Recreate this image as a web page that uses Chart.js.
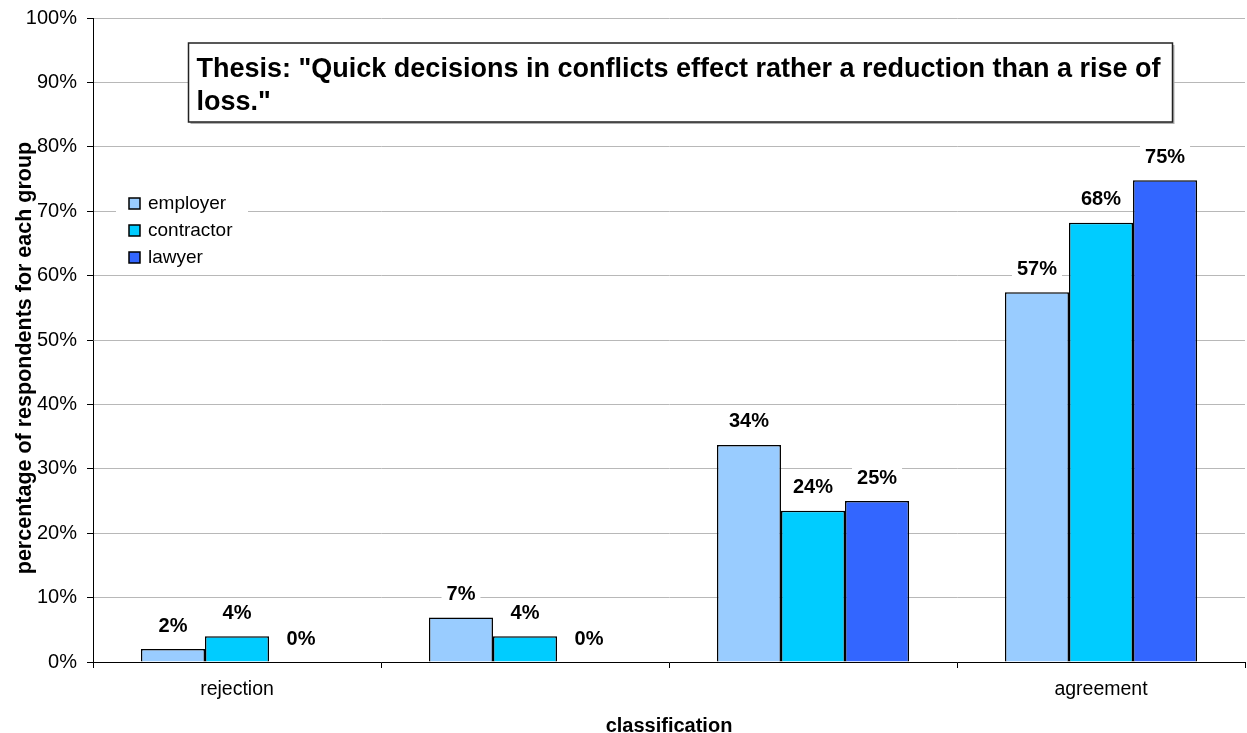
<!DOCTYPE html>
<html>
<head>
<meta charset="utf-8">
<script src="https://cdn.jsdelivr.net/npm/chart.js@4.4.1/dist/chart.umd.min.js"></script>
<style>
  html, body { margin: 0; padding: 0; background: #fff; }
  #wrap { position: relative; width: 1247px; height: 733px; }
  canvas { display: block; }
</style>
</head>
<body>
<div id="wrap"><canvas id="c" width="1247" height="733"></canvas></div>
<script>
// ---- data ----
const categories = ['rejection', '', '', 'agreement'];
const seriesNames = ['employer', 'contractor', 'lawyer'];
const employer = [2, 6.9, 33.7, 57.4];
const contractor = [4, 4, 23.5, 68.2];
const lawyer = [0, 0, 25, 74.8];
const seriesColors = ['#99CCFF', '#00CCFF', '#3366FF'];
const titleLines = ['Thesis: "Quick decisions in conflicts effect rather a reduction than a rise of', 'loss."'];
const yAxisTitle = 'percentage of respondents for each group';
const xAxisTitle = 'classification';

const FONT = 'Liberation Sans, Arial, sans-serif';

const dataLabelPlugin = {
  id: 'dataLabels',
  afterDatasetsDraw(chart) {
    const ctx = chart.ctx;
    ctx.save();
    ctx.font = 'bold 20px ' + FONT;
    ctx.textAlign = 'center';
    ctx.textBaseline = 'middle';
    chart.data.datasets.forEach((ds, di) => {
      const meta = chart.getDatasetMeta(di);
      meta.data.forEach((el, i) => {
        const txt = Math.round(ds.data[i]) + '%';
        const w = ctx.measureText(txt).width;
        const x = el.x, y = el.y - 24;
        ctx.fillStyle = '#fff';
        ctx.fillRect(x - w / 2 - 5, y - 12, w + 10, 24);
        ctx.fillStyle = '#000';
        ctx.fillText(txt, x, y + 1);
      });
    });
    ctx.restore();
  }
};

const overlayPlugin = {
  id: 'overlay',
  afterDraw(chart) {
    const ctx = chart.ctx;
    const a = chart.chartArea;
    ctx.save();
    // y axis title (rotated)
    ctx.save();
    ctx.translate(25, (a.top + a.bottom) / 2 + 18);
    ctx.rotate(-Math.PI / 2);
    ctx.font = 'bold 21.5px ' + FONT;
    ctx.fillStyle = '#000';
    ctx.textAlign = 'center';
    ctx.textBaseline = 'middle';
    ctx.fillText(yAxisTitle, 0, 0);
    ctx.restore();
    // legend
    const lx = a.left + 23, ly = a.top + 168;
    ctx.fillStyle = '#fff';
    ctx.fillRect(lx, ly, 132, 86);
    ctx.font = '19px ' + FONT;
    ctx.textBaseline = 'middle';
    chart.data.datasets.forEach((ds, i) => {
      const y = ly + 17 + i * 27;
      ctx.fillStyle = ds.backgroundColor;
      ctx.fillRect(lx + 13, y - 5, 11, 11);
      ctx.strokeStyle = '#000';
      ctx.lineWidth = 1.5;
      ctx.strokeRect(lx + 13, y - 5, 11, 11);
      ctx.fillStyle = '#000';
      ctx.fillText(ds.label, lx + 32, y + 1);
    });
    // title box
    const bx = a.left + 95.5, by = 43, bw = 984, bh = 79;
    ctx.fillStyle = '#b0b0b0';
    ctx.fillRect(bx + 2, by + 2, bw, bh);
    ctx.fillStyle = '#fff';
    ctx.fillRect(bx, by, bw, bh);
    ctx.strokeStyle = '#222';
    ctx.lineWidth = 1.5;
    ctx.strokeRect(bx, by, bw, bh);
    ctx.fillStyle = '#000';
    ctx.font = 'bold 27px ' + FONT;
    ctx.textBaseline = 'alphabetic';
    titleLines.forEach((t, i) => ctx.fillText(t, bx + 8, by + 34 + i * 32.5));
    ctx.restore();
  }
};

new Chart(document.getElementById('c'), {
  type: 'bar',
  data: {
    labels: categories,
    datasets: [
      { label: seriesNames[0], data: employer, backgroundColor: seriesColors[0] },
      { label: seriesNames[1], data: contractor, backgroundColor: seriesColors[1] },
      { label: seriesNames[2], data: lawyer, backgroundColor: seriesColors[2] }
    ].map(d => Object.assign(d, { borderColor: '#000', borderWidth: 1.5, borderSkipped: 'bottom', categoryPercentage: 0.667, barPercentage: 1.0 }))
  },
  options: {
    responsive: false,
    animation: false,
    devicePixelRatio: 1,
    layout: { padding: { top: 18, right: 2, left: 0, bottom: 0 } },
    plugins: {
      legend: { display: false },
      tooltip: { enabled: false },
      title: { display: false }
    },
    scales: {
      x: {
        afterFit(s) { s.height = 71; s.paddingLeft = 0; s.paddingRight = 0; },
        grid: { drawOnChartArea: false, drawTicks: true, tickLength: 6, tickColor: '#000', offset: true },
        border: { color: '#000', width: 1 },
        ticks: { color: '#000', font: { family: FONT, size: 19.5 }, padding: 10, maxRotation: 0, autoSkip: false },
        title: { display: true, text: xAxisTitle, color: '#000', font: { family: FONT, size: 20, weight: 'bold', lineHeight: 1 }, padding: { top: 0, bottom: -3 } }
      },
      y: {
        min: 0, max: 100,
        afterFit(s) { s.width = 93; s.paddingTop = 0; s.paddingBottom = 0; },
        grid: { color: '#b8b8b8', tickColor: '#000', tickLength: 6, lineWidth: 1 },
        border: { color: '#000', width: 1 },
        ticks: { stepSize: 10, color: '#000', font: { family: FONT, size: 20 }, padding: 10, callback: v => v + '%' },
        title: { display: false }
      }
    }
  },
  plugins: [dataLabelPlugin, overlayPlugin]
});
</script>
</body>
</html>
